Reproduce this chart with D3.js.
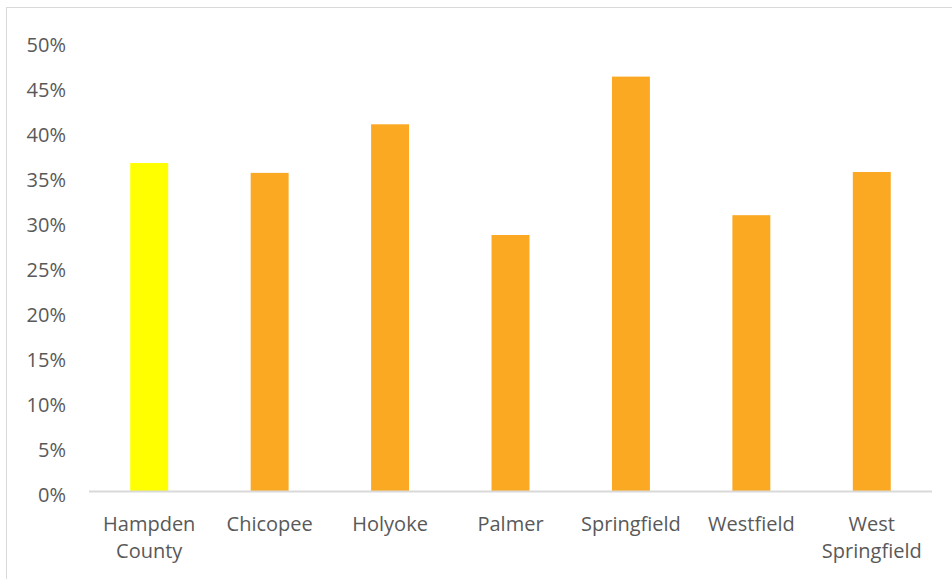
<!DOCTYPE html>
<html><head><meta charset="utf-8">
<script src="https://cdn.jsdelivr.net/npm/d3@7"></script>
<style>html,body{margin:0;padding:0;background:#fff;}svg{display:block;}</style>
</head><body>
<script>
const categories = [["Hampden","County"],["Chicopee"],["Holyoke"],["Palmer"],["Springfield"],["Westfield"],["West","Springfield"]];
const values = [0.365, 0.354, 0.408, 0.285, 0.461, 0.307, 0.355];
const barColors = ["#FFFF00","#FBA922","#FBA922","#FBA922","#FBA922","#FBA922","#FBA922"];
const yTicks = [0,0.05,0.10,0.15,0.20,0.25,0.30,0.35,0.40,0.45,0.50];

const W = 952, H = 579;
const svg = d3.select("body").append("svg").attr("width", W).attr("height", H);
svg.append("rect").attr("x",6.5).attr("y",7.5).attr("width",W).attr("height",H)
  .attr("fill","#fff").attr("stroke","#D9D9D9").attr("stroke-width",1);

const mLeft = 89, mRight = 932, mTop = 41.5, mBottom = 491.5;
const names = categories.map(c => c.join(" "));
const x = d3.scaleBand().domain(names).range([mLeft, mRight]).paddingInner(0.685).paddingOuter(0.3425);
const y = d3.scaleLinear().domain([0, 0.5]).range([mBottom, mTop]);

svg.append("g").selectAll("rect").data(values).join("rect")
  .attr("x", (d,i) => x(names[i]))
  .attr("width", x.bandwidth())
  .attr("y", d => y(d))
  .attr("height", d => y(0) - y(d))
  .attr("fill", (d,i) => barColors[i]);

svg.append("line").attr("x1",mLeft).attr("x2",mRight).attr("y1",mBottom).attr("y2",mBottom)
  .attr("stroke","#D9D9D9").attr("stroke-width",2);

const font = "'Open Sans', sans-serif";
const yAxis = d3.axisLeft(y).tickValues(yTicks).tickFormat(d3.format(".0%")).tickSize(0).tickPadding(0);
const gy = svg.append("g").attr("transform", "translate(66,3.5)").call(yAxis);
gy.select(".domain").remove();
gy.selectAll("text").attr("font-family", font).attr("font-size", 20).attr("fill", "#595959");

const xAxis = d3.axisBottom(x).tickSize(0).tickFormat("");
const gx = svg.append("g").attr("transform", `translate(0,${mBottom})`).call(xAxis);
gx.select(".domain").remove();
gx.selectAll(".tick").each(function(d, i) {
  const t = d3.select(this).append("text").attr("text-anchor","middle")
    .attr("font-family", font).attr("font-size", 20).attr("fill","#595959");
  categories[i].forEach((line, j) => {
    t.append("tspan").attr("x", 0).attr("y", 39 + j*27).text(line);
  });
});
</script>
</body></html>
